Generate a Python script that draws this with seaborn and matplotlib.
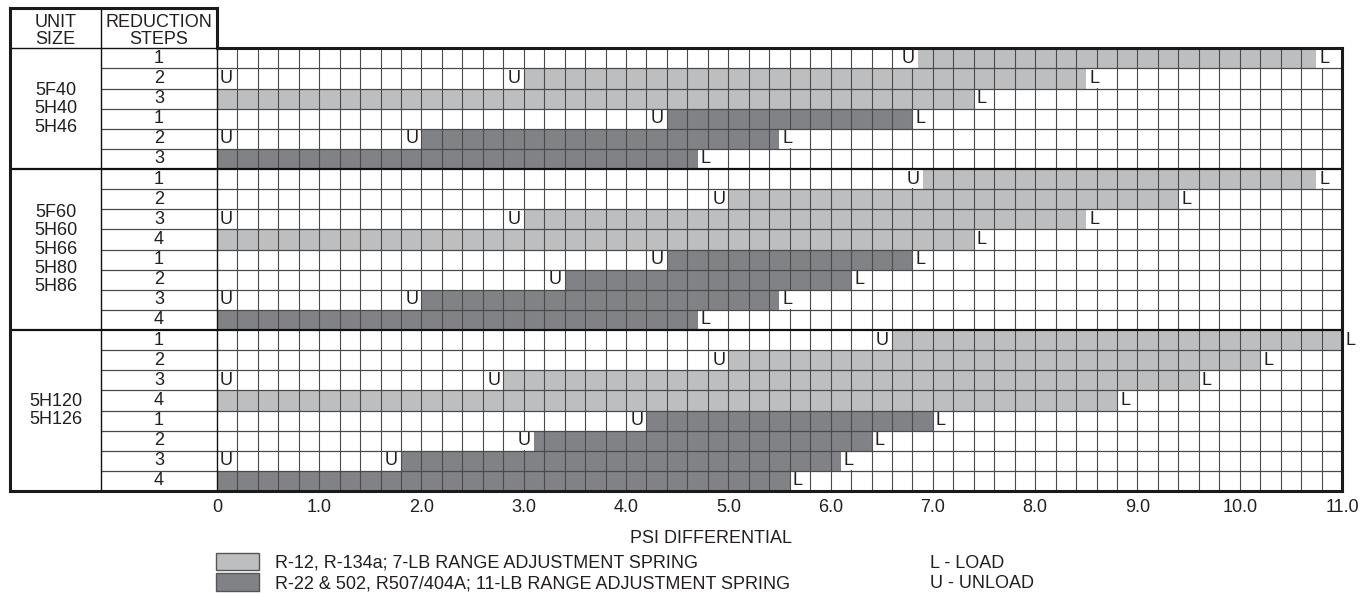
import numpy as np
import matplotlib
matplotlib.use("Agg")
import matplotlib.pyplot as plt
from matplotlib.patches import Patch
import seaborn as sns

sns.set_theme(style="white")
plt.rcParams["font.family"] = ["Liberation Sans", "DejaVu Sans"]

# ---------------- data ----------------
unit_groups = ["5F40\n5H40\n5H46",
               "5F60\n5H60\n5H66\n5H80\n5H86",
               "5H120\n5H126"]
group_sizes = [6, 8, 8]

steps = [1, 2, 3, 1, 2, 3,
         1, 2, 3, 4, 1, 2, 3, 4,
         1, 2, 3, 4, 1, 2, 3, 4]
spring = ["light"] * 3 + ["dark"] * 3 + \
         ["light"] * 4 + ["dark"] * 4 + \
         ["light"] * 4 + ["dark"] * 4
# psi where the step unloads (bar start) and loads (bar end)
unload_psi = [6.85, 3.0, 0.0, 4.4, 2.0, 0.0,
              6.9, 5.0, 3.0, 0.0, 4.4, 3.4, 2.0, 0.0,
              6.6, 5.0, 2.8, 0.0, 4.2, 3.1, 1.8, 0.0]
load_psi = [10.75, 8.5, 7.4, 6.8, 5.5, 4.7,
            10.75, 9.4, 8.5, 7.4, 6.8, 6.2, 5.5, 4.7,
            11.0, 10.2, 9.6, 8.8, 7.0, 6.4, 6.1, 5.6]
# rows that also show a "U" at zero
unload_at_zero = [False, True, False, False, True, False,
                  False, False, True, False, False, False, True, False,
                  False, False, True, False, False, False, True, False]

tick_values = [0, 1, 2, 3, 4, 5, 6, 7, 8, 9, 10, 11]
tick_labels = ["0", "1.0", "2.0", "3.0", "4.0", "5.0", "6.0",
               "7.0", "8.0", "9.0", "10.0", "11.0"]

legend_labels = ["R-12, R-134a; 7-LB RANGE ADJUSTMENT SPRING",
                 "R-22 & 502, R507/404A; 11-LB RANGE ADJUSTMENT SPRING"]
colors = {"light": "#BCBEC0", "dark": "#808285"}

# ---------------- layout ----------------
FS = 13
x_left, x_div, x_max = -2.023, -1.134, 11.0
n_rows = len(steps)

fig = plt.figure(figsize=(13.64, 5.94), dpi=100)
ax = fig.add_axes([10 / 1364, 103 / 594, 1332 / 1364, 483 / 594])
ax.set_xlim(x_left, x_max)
ax.set_ylim(n_rows, -2)
for s in ax.spines.values():
    s.set_visible(False)
ax.set_facecolor("white")

# bars
rows = np.arange(n_rows) + 0.5
for key in ["light", "dark"]:
    idx = [i for i in range(n_rows) if spring[i] == key]
    ax.barh(rows[idx],
            [load_psi[i] - unload_psi[i] for i in idx],
            left=[unload_psi[i] for i in idx],
            height=1.0, color=colors[key], linewidth=0, zorder=1)

# grid
ax.vlines(np.arange(0.2, 11.0, 0.2), 0, n_rows, color="#4a4a4a", lw=0.8, zorder=2)
bounds = np.cumsum(group_sizes)[:-1]
inner = [r for r in range(1, n_rows) if r not in bounds]
ax.hlines(inner, x_div, x_max, color="#4a4a4a", lw=0.9, zorder=4)
ax.hlines(bounds, x_left, x_max, color="#111111", lw=1.6, zorder=4)
ax.vlines(0, -2, n_rows, color="#111111", lw=1.0, zorder=4)
ax.vlines(x_div, -2, n_rows, color="#111111", lw=1.0, zorder=4)
ax.hlines(0, x_left, 0, color="#111111", lw=1.0, zorder=4)

# outer borders
kw = dict(color="#1a1a1a", lw=2.2, zorder=5, clip_on=False)
ax.plot([x_left, x_left], [-2, n_rows], solid_capstyle="projecting", **kw)
ax.plot([x_left, x_max], [n_rows, n_rows], solid_capstyle="projecting", **kw)
ax.plot([x_max, x_max], [0, n_rows], solid_capstyle="projecting", **kw)
ax.plot([0, x_max], [0, 0], solid_capstyle="projecting", **kw)
ax.plot([x_left, 0], [-2, -2], solid_capstyle="projecting", **kw)
ax.plot([0, 0], [-2, 0], solid_capstyle="projecting", **kw)

# header
col_unit = (x_left + x_div) / 2
col_step = x_div / 2
ax.text(col_unit, -0.85, "UNIT\nSIZE", ha="center", va="center",
        fontsize=FS, linespacing=1.05, color="#231f20")
ax.text(col_step, -0.85, "REDUCTION\nSTEPS", ha="center", va="center",
        fontsize=FS, linespacing=1.05, color="#231f20")

# unit sizes
start = 0
for name, n in zip(unit_groups, group_sizes):
    ax.text(col_unit, start + n / 2, name, ha="center", va="center",
            fontsize=FS, linespacing=1.12, color="#231f20")
    start += n

# step numbers and U / L markers
box = dict(facecolor="white", edgecolor="none", pad=0.5)
for i in range(n_rows):
    y = i + 0.5
    ax.text(col_step, y, str(steps[i]), ha="center", va="center",
            fontsize=FS, color="#231f20")
    if unload_psi[i] > 0:
        ax.text(unload_psi[i] - 0.03, y, "U", ha="right", va="center",
                fontsize=FS, color="#231f20", bbox=box, zorder=3)
    if unload_at_zero[i]:
        ax.text(0.03, y, "U", ha="left", va="center",
                fontsize=FS, color="#231f20", bbox=box, zorder=3)
    ax.text(load_psi[i] + 0.03, y, "L", ha="left", va="center",
            fontsize=FS, color="#231f20", bbox=box, zorder=3, clip_on=False)

# x axis
ax.set_yticks([])
ax.set_xticks(tick_values)
ax.set_xticklabels(tick_labels, fontsize=FS, color="#231f20")
ax.tick_params(axis="x", length=0, pad=6)
ax.set_xlabel("PSI DIFFERENTIAL", fontsize=FS, color="#231f20")
ax.xaxis.set_label_coords((711 - 10) / 1332, (491 - 530) / 483)

# legend
handles = [Patch(facecolor=colors["light"], edgecolor="#555555", lw=1),
           Patch(facecolor=colors["dark"], edgecolor="#555555", lw=1)]
fig.legend(handles=handles, labels=legend_labels, loc="upper left",
           bbox_to_anchor=(216 / 1364, 1 - 553 / 594), frameon=False,
           fontsize=FS, handlelength=2.4, handleheight=1.1,
           handletextpad=0.85, labelspacing=0.08, borderpad=0,
           borderaxespad=0, labelcolor="#231f20")
fig.text(930 / 1364, 1 - 563 / 594, "L - LOAD", ha="left", va="center",
         fontsize=FS, color="#231f20")
fig.text(930 / 1364, 1 - 584 / 594, "U - UNLOAD", ha="left", va="center",
         fontsize=FS, color="#231f20")

fig.savefig("out.png", dpi=100, facecolor="white")
